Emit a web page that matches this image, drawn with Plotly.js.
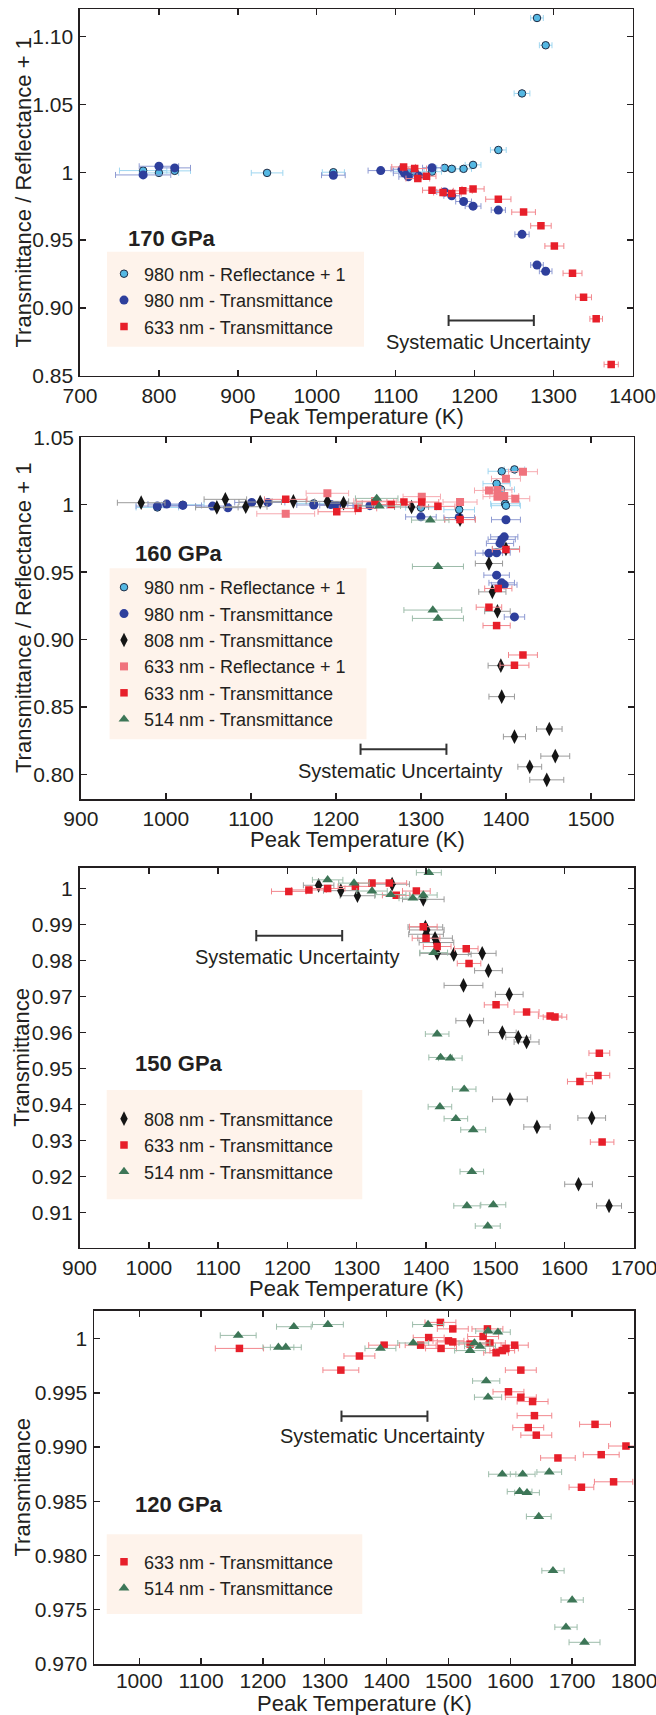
<!DOCTYPE html>
<html><head><meta charset="utf-8">
<script src="https://cdn.plot.ly/plotly-3.0.1.min.js"></script>
<style>html,body{margin:0;padding:0;background:#fff;}#chart{width:656px;height:1715px;}</style>
</head><body><div id="chart"></div>
<script>
// ---------- 170 GPa ----------
const p170_refl980_T = [780, 800, 820, 937, 1021, 1111, 1116, 1124, 1146, 1162, 1171, 1186, 1198, 1230, 1260, 1279, 1290];
const p170_refl980_V = [1.0012, 0.9995, 1.001, 0.9995, 1.0, 1.0007, 1.0002, 1.0002, 1.0004, 1.0032, 1.0025, 1.0025, 1.0054, 1.0164, 1.0581, 1.1137, 1.0936];
const p170_refl980_E = [30, 25, 20, 20, 14, 14, 12, 12, 12, 10, 10, 10, 10, 10, 10, 8, 8];
const p170_tr980_T = [780, 800, 820, 1021, 1081, 1108, 1111, 1116, 1129, 1146, 1162, 1171, 1186, 1198, 1230, 1260, 1279, 1290];
const p170_tr980_V = [0.998, 1.0044, 1.0032, 0.9978, 1.0012, 1.0022, 0.9993, 0.9966, 0.9973, 1.0033, 0.9855, 0.9826, 0.9784, 0.975, 0.9721, 0.9542, 0.9316, 0.927];
const p170_tr980_E = [35, 25, 20, 15, 16, 14, 14, 12, 12, 12, 10, 10, 10, 10, 9, 9, 8, 8];
const p170_tr633_T = [1110, 1124, 1128, 1139, 1146, 1160, 1171, 1185, 1198, 1230, 1262, 1284, 1301, 1324, 1338, 1354, 1373];
const p170_tr633_V = [1.0039, 1.0027, 0.9953, 0.9971, 0.9867, 0.985, 0.9843, 0.9863, 0.9877, 0.9801, 0.9706, 0.9605, 0.9456, 0.9255, 0.9078, 0.8919, 0.8583];
const p170_tr633_E = [15, 15, 15, 12, 12, 12, 12, 12, 14, 16, 15, 13, 12, 12, 10, 8, 9];
const p170_sys_T = [1167, 1275];
const p170_sys_V = [0.8907, 0.8907];

// ---------- 160 GPa ----------
const p160_refl980_T = [990, 1020, 1174, 1300, 1345, 1389, 1394, 1395, 1399, 1400, 1410];
const p160_refl980_V = [0.998, 1.0, 1.001, 0.9978, 0.9963, 1.0156, 1.0114, 1.0248, 1.0007, 0.9993, 1.0262];
const p160_refl980_E = [25, 25, 20, 18, 18, 16, 16, 16, 17, 17, 12];
const p160_tr980_T = [990, 1001, 1020, 1055, 1073, 1101, 1120, 1174, 1194, 1201, 1240, 1300, 1345, 1380, 1389, 1389, 1393, 1395, 1395, 1398, 1398, 1400, 1410];
const p160_tr980_V = [0.999, 1.0005, 0.9995, 0.999, 0.9978, 1.0017, 1.0017, 0.9998, 1.0002, 0.9995, 0.9993, 0.991, 0.9905, 0.9641, 0.9644, 0.9478, 0.9713, 0.9743, 0.9421, 0.9762, 0.9406, 0.9889, 0.9168];
const p160_tr980_E = [25, 22, 22, 20, 20, 20, 20, 20, 20, 20, 20, 18, 18, 16, 16, 15, 16, 16, 15, 16, 15, 17, 12];
const p160_t808_T = [971, 1060, 1070, 1094, 1111, 1150, 1190, 1209, 1289, 1346, 1380, 1384, 1390, 1394, 1395, 1400, 1410, 1428, 1448, 1451, 1458];
const p160_t808_V = [1.0015, 0.998, 1.004, 0.9985, 1.002, 1.0025, 1.0025, 1.0012, 0.9983, 0.989, 0.9564, 0.9354, 0.921, 0.8807, 0.8577, 0.9673, 0.828, 0.8057, 0.796, 0.8337, 0.8136];
const p160_t808_E = [28, 25, 25, 25, 25, 25, 25, 22, 20, 18, 16, 16, 15, 15, 15, 16, 13, 14, 20, 15, 17];
const p160_refl633_T = [1141, 1190, 1246, 1301, 1346, 1380, 1390, 1390, 1398, 1400, 1411, 1420];
const p160_refl633_V = [0.9933, 1.0085, 1.0027, 1.006, 1.002, 1.0106, 1.0109, 1.006, 1.0064, 1.0193, 1.0045, 1.0245];
const p160_refl633_E = [34, 25, 25, 22, 20, 17, 17, 17, 17, 17, 17, 17];
const p160_tr633_T = [1141, 1201, 1226, 1246, 1265, 1280, 1301, 1320, 1346, 1380, 1389, 1391, 1400, 1410, 1420];
const p160_tr633_V = [1.004, 0.9948, 0.9973, 1.0022, 1.0002, 1.002, 1.002, 0.9988, 0.989, 0.924, 0.9104, 0.9379, 0.9668, 0.881, 0.8886];
const p160_tr633_E = [25, 22, 22, 22, 22, 20, 20, 20, 18, 15, 16, 16, 16, 17, 17];
const p160_t514_T = [1248, 1251, 1311, 1314, 1320, 1320];
const p160_t514_V = [1.0047, 0.999, 0.9886, 0.9219, 0.9157, 0.9542];
const p160_t514_E = [25, 25, 22, 34, 30, 30];
const p160_sys_T = [1229, 1330];
const p160_sys_V = [0.8187, 0.8187];

// ---------- 150 GPa ----------
const p150_t808_T = [1245, 1277, 1301, 1351, 1396, 1399, 1400, 1401, 1413, 1415, 1416, 1440, 1454, 1463, 1481, 1490, 1510, 1520, 1521, 1533, 1545, 1560, 1620, 1639, 1664];
const p150_t808_V = [1.0009, 0.9994, 0.998, 1.0012, 0.997, 0.9893, 0.9873, 0.9885, 0.9862, 0.985, 0.982, 0.9817, 0.9731, 0.9633, 0.982, 0.9772, 0.96, 0.9706, 0.9415, 0.9587, 0.9574, 0.9338, 0.9179, 0.9363, 0.9119];
const p150_t808_E = [22, 25, 25, 25, 30, 25, 25, 25, 25, 25, 25, 25, 28, 20, 20, 20, 20, 20, 25, 18, 18, 19, 20, 20, 18];
const p150_tr633_T = [1202, 1231, 1258, 1298, 1322, 1347, 1357, 1386, 1396, 1400, 1416, 1458, 1462, 1501, 1545, 1579, 1586, 1622, 1648, 1650, 1654];
const p150_tr633_V = [0.9992, 0.9996, 1.0, 1.0006, 1.0015, 1.0015, 0.9981, 0.9993, 0.9894, 0.9862, 0.9839, 0.9833, 0.9792, 0.9677, 0.9657, 0.9646, 0.9643, 0.9464, 0.9481, 0.9543, 0.9296];
const p150_tr633_E = [25, 25, 25, 25, 25, 25, 20, 20, 20, 20, 20, 17, 17, 17, 18, 17, 17, 18, 17, 15, 17];
const p150_t514_T = [1258, 1296, 1322, 1349, 1381, 1396, 1404, 1411, 1416, 1420, 1421, 1435, 1443, 1455, 1459, 1466, 1468, 1489, 1497];
const p150_t514_V = [1.0024, 1.0015, 0.9993, 0.9983, 0.9973, 0.9982, 1.0044, 0.9822, 0.9596, 0.9394, 0.9531, 0.9529, 0.9361, 0.9443, 0.9119, 0.9214, 0.933, 0.9063, 0.9122];
const p150_t514_E = [22, 22, 22, 22, 20, 20, 18, 20, 17, 17, 17, 17, 17, 17, 19, 17, 18, 18, 18];
const p150_sys_T = [1155, 1279];
const p150_sys_V = [0.9869, 0.9869];

// ---------- 120 GPa ----------
const p120_tr633_T = [1162, 1326, 1356, 1396, 1455, 1468, 1487, 1488, 1500, 1507, 1507, 1535, 1556, 1563, 1567, 1577, 1587, 1593, 1607, 1617, 1597, 1617, 1636, 1639, 1629, 1642, 1677, 1737, 1747, 1787, 1715, 1767];
const p120_tr633_V = [0.9991, 0.9971, 0.9984, 0.9994, 0.9994, 1.0001, 1.0015, 0.9991, 0.9998, 1.0009, 0.9997, 0.9995, 1.0002, 1.0009, 0.9996, 0.9987, 0.9989, 0.9991, 0.9994, 0.9971, 0.9951, 0.9946, 0.9942, 0.9929, 0.9918, 0.9911, 0.989, 0.9921, 0.9893, 0.9901, 0.9863, 0.9868];
const p120_tr633_E = [39, 29, 25, 25, 25, 25, 25, 25, 25, 25, 25, 25, 25, 25, 25, 20, 20, 20, 22, 25, 25, 25, 25, 28, 25, 25, 28, 25, 29, 28, 20, 31];
const p120_t514_T = [1160, 1225, 1237, 1250, 1305, 1390, 1443, 1467, 1535, 1542, 1551, 1564, 1580, 1561, 1564, 1587, 1620, 1663, 1615, 1627, 1646, 1669, 1700, 1690, 1720];
const p120_t514_V = [1.0003, 0.9992, 0.9992, 1.0011, 1.0013, 0.9991, 0.9996, 1.0013, 0.9989, 0.9996, 0.9993, 1.0007, 1.0006, 0.9961, 0.9946, 0.9875, 0.9875, 0.9877, 0.9859, 0.9858, 0.9836, 0.9786, 0.9759, 0.9734, 0.972];
const p120_t514_E = [29, 25, 25, 28, 25, 25, 25, 25, 25, 25, 25, 20, 20, 22, 22, 22, 20, 20, 20, 20, 20, 18, 18, 18, 25];
const p120_sys_T = [1327, 1466];
const p120_sys_V = [0.99285, 0.99285];

// ---------- tick labels ----------
const x170_ticks = [700, 800, 900, 1000, 1100, 1200, 1300, 1400];
const x160_ticks = [900, 1000, 1100, 1200, 1300, 1400, 1500];
const x150_ticks = [900, 1000, 1100, 1200, 1300, 1400, 1500, 1600, 1700];
const x120_ticks = [1000, 1100, 1200, 1300, 1400, 1500, 1600, 1700, 1800];
const y170_ticks = [0.85, 0.90, 0.95, 1.00, 1.05, 1.10];
const y170_text = ['0.85', '0.90', '0.95', '1', '1.05', '1.10'];
const y160_ticks = [0.80, 0.85, 0.90, 0.95, 1.00, 1.05];
const y160_text = ['0.80', '0.85', '0.90', '0.95', '1', '1.05'];
const y150_ticks = [0.91, 0.92, 0.93, 0.94, 0.95, 0.96, 0.97, 0.98, 0.99, 1.00];
const y150_text = ['0.91', '0.92', '0.93', '0.94', '0.95', '0.96', '0.97', '0.98', '0.99', '1'];
const y120_ticks = [0.970, 0.975, 0.980, 0.985, 0.990, 0.995, 1.000];
const y120_text = ['0.970', '0.975', '0.980', '0.985', '0.990', '0.995', '1'];

const W = 656, H = 1715;
const FONT = 'Liberation Sans, Arial, sans-serif';
const INK = '#231f20';
const px = p => p / W;
const py = p => 1 - p / H;

const ST = {
  refl980: {name: '980 nm - Reflectance + 1', symbol: 'circle', size: 7.5, color: '#55b8e3', line: {color: '#1e2b44', width: 1}, err: '#9fd6f0'},
  tr980:   {name: '980 nm - Transmittance', symbol: 'circle', size: 9, color: '#2e3f9c', line: {width: 0}, err: '#8e9ad2'},
  t808:    {name: '808 nm - Transmittance', symbol: 'diamond-tall', size: 10.5, color: '#151515', line: {width: 0}, err: '#9b9b9b'},
  refl633: {name: '633 nm - Reflectance + 1', symbol: 'square', size: 8, color: '#f0737d', line: {width: 0}, err: '#f6aab0'},
  tr633:   {name: '633 nm - Transmittance', symbol: 'square', size: 7.5, color: '#e71f2a', line: {width: 0}, err: '#f2878d'},
  t514:    {name: '514 nm - Transmittance', symbol: 'triangle-up', size: 9.5, color: '#3d7657', line: {width: 0}, err: '#9dbcaa'}
};

function series(key, xs, ys, es, ax, lg) {
  const s = ST[key];
  return {
    type: 'scatter', mode: 'markers', name: s.name, x: xs, y: ys,
    xaxis: 'x' + ax, yaxis: 'y' + ax, legend: lg,
    marker: {symbol: s.symbol, size: s.size, color: s.color, line: s.line},
    error_x: {type: 'data', array: es, visible: true, color: s.err, thickness: 1, width: 3},
    hoverinfo: 'x+y'
  };
}
function sysBar(xs, ys, ax) {
  return {
    type: 'scatter', mode: 'lines+markers', x: xs, y: ys, xaxis: 'x' + ax, yaxis: 'y' + ax,
    showlegend: false, line: {color: '#333', width: 2},
    marker: {symbol: 'line-ns', size: 8, line: {color: '#333', width: 2}}, hoverinfo: 'skip'
  };
}

const data = [
  series('refl980', p170_refl980_T, p170_refl980_V, p170_refl980_E, '', 'legend'),
  series('tr980', p170_tr980_T, p170_tr980_V, p170_tr980_E, '', 'legend'),
  series('tr633', p170_tr633_T, p170_tr633_V, p170_tr633_E, '', 'legend'),
  sysBar(p170_sys_T, p170_sys_V, ''),

  series('refl980', p160_refl980_T, p160_refl980_V, p160_refl980_E, '2', 'legend2'),
  series('tr980', p160_tr980_T, p160_tr980_V, p160_tr980_E, '2', 'legend2'),
  series('t808', p160_t808_T, p160_t808_V, p160_t808_E, '2', 'legend2'),
  series('refl633', p160_refl633_T, p160_refl633_V, p160_refl633_E, '2', 'legend2'),
  series('tr633', p160_tr633_T, p160_tr633_V, p160_tr633_E, '2', 'legend2'),
  series('t514', p160_t514_T, p160_t514_V, p160_t514_E, '2', 'legend2'),
  sysBar(p160_sys_T, p160_sys_V, '2'),

  series('t808', p150_t808_T, p150_t808_V, p150_t808_E, '3', 'legend3'),
  series('tr633', p150_tr633_T, p150_tr633_V, p150_tr633_E, '3', 'legend3'),
  series('t514', p150_t514_T, p150_t514_V, p150_t514_E, '3', 'legend3'),
  sysBar(p150_sys_T, p150_sys_V, '3'),

  series('tr633', p120_tr633_T, p120_tr633_V, p120_tr633_E, '4', 'legend4'),
  series('t514', p120_t514_T, p120_t514_V, p120_t514_E, '4', 'legend4'),
  sysBar(p120_sys_T, p120_sys_V, '4')
];

function xaxis(range, dom, anchor, tv, standoff) {
  return {
    range: range, domain: dom, anchor: anchor, tickmode: 'array', tickvals: tv,
    showline: true, mirror: 'ticks', linecolor: INK, linewidth: 1.6,
    ticks: 'inside', ticklen: 6, tickwidth: 1.4, tickcolor: INK,
    showgrid: false, zeroline: false, ticklabelstandoff: standoff, ticklabeloverflow: 'allow',
    tickfont: {family: FONT, size: 21, color: INK}
  };
}
function yaxis(range, dom, anchor, tv, tt) {
  return {
    range: range, domain: dom, anchor: anchor, tickmode: 'array', tickvals: tv, ticktext: tt,
    showline: true, mirror: 'ticks', linecolor: INK, linewidth: 1.6,
    ticks: 'inside', ticklen: 6, tickwidth: 1.4, tickcolor: INK,
    showgrid: false, zeroline: false, ticklabelstandoff: 1,
    tickfont: {family: FONT, size: 21, color: INK}
  };
}
function legendBox(top) {
  return {x: px(104), xanchor: 'left', y: py(top), yanchor: 'top', bgcolor: 'rgba(0,0,0,0)',
          borderwidth: 0, font: {family: FONT, size: 18, color: INK}, tracegroupgap: 0};
}
function bgRect(x0, x1, y0, y1) {
  return {type: 'rect', xref: 'paper', yref: 'paper', x0: px(x0), x1: px(x1), y0: py(y1), y1: py(y0),
          fillcolor: '#fef3eb', line: {width: 0}, layer: 'below'};
}
function label(text, xp, yp) {
  return {text: '<b>' + text + '</b>', xref: 'paper', yref: 'paper', x: px(xp), y: py(yp),
          xanchor: 'left', yanchor: 'middle', showarrow: false, font: {family: FONT, size: 22, color: INK}};
}
function sysText(ax, xv, yv) {
  return {text: 'Systematic Uncertainty', xref: 'x' + ax, yref: 'y' + ax, x: xv, y: yv,
          xanchor: 'center', yanchor: 'middle', showarrow: false, font: {family: FONT, size: 20, color: INK}};
}
function xTitle(xp, yp) {
  return {text: 'Peak Temperature (K)', xref: 'paper', yref: 'paper', x: px(xp), y: py(yp),
          xanchor: 'center', yanchor: 'middle', showarrow: false, font: {family: FONT, size: 22, color: INK}};
}
function yTitle(text, xp, yp) {
  return {text: text, xref: 'paper', yref: 'paper', x: px(xp), y: py(yp), textangle: -90,
          xanchor: 'center', yanchor: 'middle', showarrow: false, font: {family: FONT, size: 22, color: INK}};
}

const layout = {
  width: W, height: H, margin: {l: 0, r: 0, t: 0, b: 0},
  paper_bgcolor: '#ffffff', plot_bgcolor: 'rgba(0,0,0,0)', showlegend: true,
  font: {family: FONT, color: INK},
  xaxis: xaxis([700, 1400], [px(80), px(632.5)], 'y', x170_ticks, 0),
  yaxis: yaxis([0.85, 1.1201], [py(375.7), py(9.3)], 'x', y170_ticks, y170_text),
  xaxis2: xaxis([900, 1550], [px(80.8), px(633.5)], 'y2', x160_ticks, 0),
  yaxis2: yaxis([0.7818, 1.05], [py(799), py(437.3)], 'x2', y160_ticks, y160_text),
  xaxis3: xaxis([900, 1700], [px(79.5), px(634)], 'y3', x150_ticks, 0),
  yaxis3: yaxis([0.90028, 1.00578], [py(1247.7), py(867.7)], 'x3', y150_ticks, y150_text),
  xaxis4: xaxis([927, 1800], [px(94.1), px(634)], 'y4', x120_ticks, -3),
  yaxis4: yaxis([0.970, 1.00255], [py(1664), py(1311)], 'x4', y120_ticks, y120_text),
  legend: legendBox(255.5),
  legend2: legendBox(569),
  legend3: legendBox(1100.5),
  legend4: legendBox(1543.5),
  shapes: [
    bgRect(107, 364, 251.7, 346.7),
    bgRect(109.6, 366.5, 568.3, 739.3),
    bgRect(106.7, 362.3, 1090, 1199.3),
    bgRect(106.7, 362.3, 1534.3, 1614)
  ],
  annotations: [
    label('170 GPa', 125.5, 238.3),
    label('160 GPa', 133, 553.3),
    label('150 GPa', 133, 1063.3),
    label('120 GPa', 133, 1504),
    sysText('', 1218, 0.875),
    sysText('2', 1276, 0.8026),
    sysText('3', 1214, 0.9811),
    sysText('4', 1394, 0.9910),
    xTitle(356.3, 416.5),
    xTitle(357, 839.5),
    xTitle(356.8, 1288.2),
    xTitle(364, 1703.5),
    yTitle('Transmittance / Reflectance + 1', 23, 192.5),
    yTitle('Transmittance / Reflectance + 1', 23, 618),
    yTitle('Transmittance', 22, 1057.7),
    yTitle('Transmittance', 22, 1487.5)
  ]
};

Plotly.newPlot('chart', data, layout, {displayModeBar: false, staticPlot: true});
</script></body></html>
